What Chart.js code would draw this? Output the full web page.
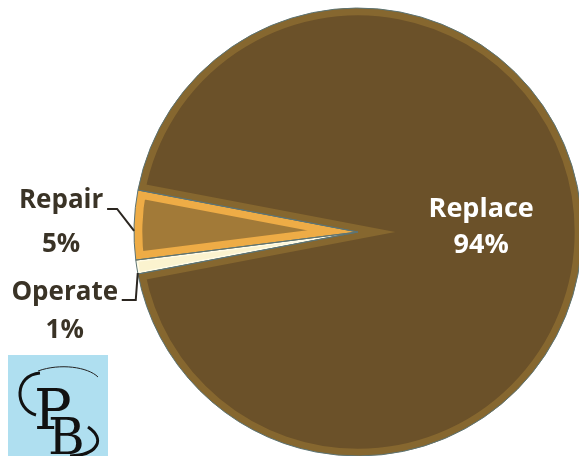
<!DOCTYPE html>
<html>
<head>
<meta charset="utf-8">
<script src="https://cdn.jsdelivr.net/npm/chart.js@4.4.0/dist/chart.umd.min.js"></script>
<style>
html, body { margin: 0; padding: 0; background: #fff; overflow: hidden; }
#wrap { position: relative; width: 579px; height: 456px; overflow: hidden; }
#logo { position: absolute; left: 8px; top: 355px; width: 100px; height: 101px; background: #afdff0; }
</style>
</head>
<body>
<div id="wrap">
  <canvas id="myChart" width="590" height="456"></canvas>
  <svg id="logo" viewBox="0 0 100 101">
    <path d="M32,18 C6,20 6,54 28,60" fill="none" stroke="#111" stroke-width="3"/>
    <path d="M30,16 C52,8 80,12 90,22" fill="none" stroke="#222" stroke-width="1"/>
    <path d="M80,72 C98,84 90,100 62,101" fill="none" stroke="#111" stroke-width="3"/>
    <text x="26" y="74" font-family="DejaVu Serif" font-size="56" fill="#111">P</text>
    <text x="40" y="99" font-family="DejaVu Serif" font-size="50" fill="#111">B</text>
  </svg>
</div>
<script>
var labels = ["Operate", "Repair", "Replace"];
var values = [1, 5, 94];
var pctLabels = ["1%", "5%", "94%"];
var fillColors = ["#fbf3cf", "#a27a38", "#6b5129"];
var bevelColors = ["#fffbe6", "#eeac46", "#86672f"];
var bevelWidths = [2, 8, 7];

// thin blue-grey outline round every slice
var outlinePlugin = {
  id: 'outline',
  afterDatasetsDraw: function(chart) {
    var ctx = chart.ctx;
    chart.getDatasetMeta(0).data.forEach(function(arc) {
      var p = arc.getProps(['x', 'y', 'startAngle', 'endAngle', 'outerRadius'], true);
      ctx.save();
      ctx.beginPath();
      ctx.moveTo(p.x, p.y);
      ctx.arc(p.x, p.y, p.outerRadius, p.startAngle, p.endAngle);
      ctx.closePath();
      ctx.lineWidth = 1;
      ctx.strokeStyle = '#5d7474';
      ctx.stroke();
      ctx.restore();
    });
  }
};

var labelPlugin = {
  id: 'sliceLabels',
  afterDraw: function(chart) {
    var ctx = chart.ctx;
    var arcs = chart.getDatasetMeta(0).data;
    ctx.save();
    ctx.font = 'bold 27px "Open Sans"';
    ctx.textAlign = 'center';

    // Replace: inside the slice
    var a = arcs[2].getProps(['x', 'y', 'startAngle', 'endAngle', 'outerRadius'], true);
    var mid = (a.startAngle + a.endAngle) / 2;
    var cx = a.x + Math.cos(mid) * a.outerRadius * 0.55;
    var cy = a.y + Math.sin(mid) * a.outerRadius * 0.55;
    ctx.fillStyle = '#ffffff';
    ctx.fillText(labels[2], cx, cy - 15);
    ctx.fillText(pctLabels[2], cx, cy + 21);

    // small slices: outside on the left with leader lines
    ctx.font = 'bold 26px "Open Sans"';
    ctx.fillStyle = '#3a3326';
    ctx.strokeStyle = '#2b2620';
    ctx.lineWidth = 2;
    var r = arcs[1].getProps(['x', 'y', 'startAngle', 'endAngle', 'outerRadius'], true);
    var m1 = (r.startAngle + r.endAngle) / 2;
    var px = r.x + Math.cos(m1) * r.outerRadius;
    var py = r.y + Math.sin(m1) * r.outerRadius;
    ctx.fillText(labels[1], px - 73, py - 17);
    ctx.fillText(pctLabels[1], px - 73, py + 27);
    ctx.beginPath();
    ctx.moveTo(px - 27, py - 16);
    ctx.lineTo(px - 17, py - 16);
    ctx.lineTo(px, py + 6);
    ctx.stroke();

    var o = arcs[0].getProps(['x', 'y', 'startAngle', 'endAngle', 'outerRadius'], true);
    var m0 = (o.startAngle + o.endAngle) / 2;
    var qx = o.x + Math.cos(m0) * o.outerRadius;
    var qy = o.y + Math.sin(m0) * o.outerRadius;
    ctx.fillText(labels[0], qx - 72, qy + 33);
    ctx.fillText(pctLabels[0], qx - 72, qy + 71);
    ctx.beginPath();
    ctx.moveTo(qx - 15, qy + 33);
    ctx.lineTo(qx - 1, qy + 33);
    ctx.lineTo(qx + 1, qy + 6);
    ctx.stroke();
    ctx.restore();
  }
};

new Chart("myChart", {
  type: "pie",
  data: {
    labels: labels,
    datasets: [{
      data: values,
      backgroundColor: fillColors,
      borderColor: bevelColors,
      borderWidth: bevelWidths,
      borderAlign: 'inner',
      borderJoinStyle: 'miter'
    }]
  },
  options: {
    responsive: false,
    animation: false,
    rotation: 259.2,
    layout: { padding: { left: 134, right: 8, top: 8, bottom: 0 } },
    plugins: {
      legend: { display: false },
      tooltip: { enabled: false }
    }
  },
  plugins: [outlinePlugin, labelPlugin]
});
</script>
</body>
</html>
